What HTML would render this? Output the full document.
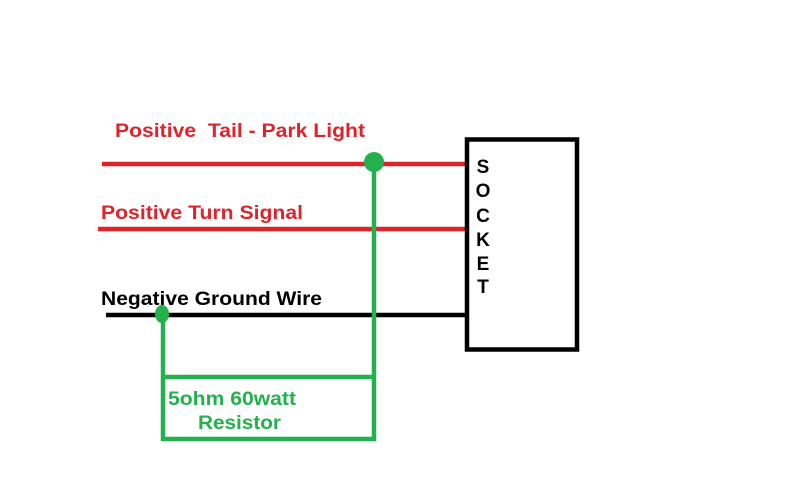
<!DOCTYPE html>
<html><head><style>
html,body{margin:0;padding:0;background:#fff;}
svg{display:block;}
text{font-family:"Liberation Sans",sans-serif;font-weight:bold;}
</style></head><body>
<svg width="786" height="501" viewBox="0 0 786 501">
<rect width="786" height="501" fill="#fff"/>
<line x1="102" y1="164" x2="468" y2="164" stroke="#e0232b" stroke-width="4.5"/>
<line x1="98" y1="229" x2="466" y2="229" stroke="#e0232b" stroke-width="4.5"/>
<line x1="106" y1="315" x2="465" y2="315" stroke="#000" stroke-width="4.5"/>
<rect x="467" y="139.5" width="110" height="210" fill="none" stroke="#000" stroke-width="4.5"/>
<g stroke="#22b14c" stroke-width="4.5" fill="none">
<line x1="374" y1="162" x2="374" y2="441"/>
<line x1="163" y1="314" x2="163" y2="441"/>
<line x1="163" y1="377" x2="374" y2="377"/>
<line x1="161" y1="439" x2="376" y2="439"/>
</g>
<circle cx="374" cy="162" r="10" fill="#22b14c"/>
<ellipse cx="162" cy="314" rx="7" ry="9" fill="#22b14c"/>
<g fill="#e0232b" font-size="19">
<text x="115" y="137" xml:space="preserve" textLength="250" lengthAdjust="spacingAndGlyphs">Positive  Tail - Park Light</text>
<text x="101" y="219" textLength="202" lengthAdjust="spacingAndGlyphs">Positive Turn Signal</text>
</g>
<text x="101" y="305" font-size="19" fill="#000" textLength="221" lengthAdjust="spacingAndGlyphs">Negative Ground Wire</text>
<g font-size="19" fill="#000" text-anchor="middle">
<text x="483" y="173">S</text>
<text x="483" y="197">O</text>
<text x="483" y="222">C</text>
<text x="483" y="246">K</text>
<text x="483" y="270">E</text>
<text x="483" y="293">T</text>
</g>
<g fill="#22b14c" font-size="19">
<text x="168" y="405" textLength="128" lengthAdjust="spacingAndGlyphs">5ohm 60watt</text>
<text x="198" y="429" textLength="83" lengthAdjust="spacingAndGlyphs">Resistor</text>
</g>
</svg>
</body></html>
